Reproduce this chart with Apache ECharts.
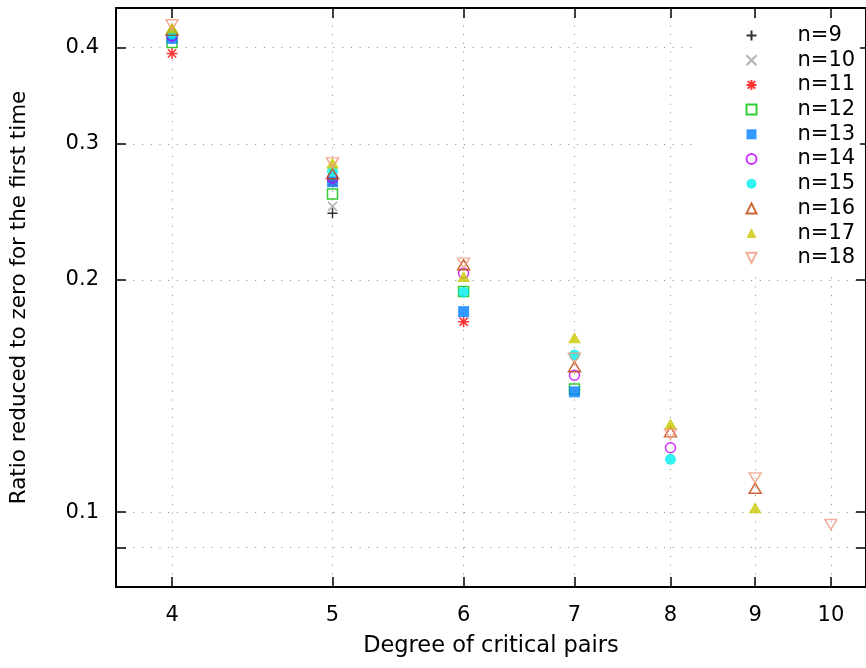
<!DOCTYPE html>
<html>
<head>
<meta charset="utf-8">
<script src="https://cdn.jsdelivr.net/npm/echarts@6/dist/echarts.min.js"></script>
<style>
  html, body { margin: 0; padding: 0; background: #fff; }
  #chart { width: 866px; height: 668px; }
</style>
</head>
<body>
<div id="chart"></div>
<script>
// Degrees on the x axis and ratio for each n (null = no point)
const degrees = [4, 5, 6, 7, 8, 9, 10];
const n9  = [0.412, 0.244, null, null, null, null, null];
const n10 = [0.414, 0.249, null, null, null, null, null];
const n11 = [0.393, 0.268, 0.1765, null, null, null, null];
const n12 = [0.406, 0.2584, 0.1932, 0.1444, null, null, null];
const n13 = [0.411, 0.268, 0.1819, 0.1432, null, null, null];
const n14 = [0.414, 0.271, 0.2040, 0.1505, 0.1212, null, null];
const n15 = [0.417, 0.2765, 0.1928, 0.1598, 0.1171, null, null];
const n16 = [0.421, 0.2745, 0.2092, 0.1543, 0.1271, 0.1074, null];
const n17 = [0.424, 0.2835, 0.2020, 0.1683, 0.1301, 0.1013, null];
const n18 = [0.428, 0.2835, 0.2102, 0.1583, 0.1262, 0.1108, 0.0964];

const xTicks = [4, 5, 6, 7, 8, 9, 10];
const yTicks = [0.09, 0.1, 0.2, 0.3, 0.4];
const yTickLabels = ['', '0.1', '0.2', '0.3', '0.4'];

const FONT = 'DejaVu Sans';
const GRID_COLOR = '#888';

const SYM_PLUS = 'path://M0,-1L0,1M-1,0L1,0';
const SYM_CROSS = 'path://M-1,-1L1,1M-1,1L1,-1';
const SYM_STAR = 'path://M0,-1L0,1M-1,0L1,0M-0.75,-0.75L0.75,0.75M-0.75,0.75L0.75,-0.75';
const SYM_SQUARE = 'path://M-1,-1L1,-1L1,1L-1,1Z';
const SYM_UP = 'path://M0,-1L1,1L-1,1Z';
const SYM_DOWN = 'path://M-1,-1L1,-1L0,1Z';

function toPoints(vals) {
    const pts = [];
    vals.forEach(function (v, i) {
        if (v != null) pts.push([degrees[i], v]);
    });
    return pts;
}

function makeSeries(name, vals, symbol, color, filled, size) {
    return {
        name: name,
        type: 'scatter',
        data: toPoints(vals),
        symbol: symbol,
        symbolSize: size || 10,
        itemStyle: filled
            ? { color: color, borderWidth: 0 }
            : { color: 'none', borderColor: color, borderWidth: 1.5 },
        emphasis: { disabled: true }
    };
}

const chart = echarts.init(document.getElementById('chart'));

const yFormatter = function (v) {
    let best = 0;
    yTicks.forEach(function (t, i) {
        if (Math.abs(t - v) < Math.abs(yTicks[best] - v)) best = i;
    });
    return yTickLabels[best];
};

const baseX = {
    type: 'log',
    logBase: 10,
    min: 3.7,
    max: 10.5,
    axisLine: { lineStyle: { color: '#000', width: 2 } },
    axisTick: { inside: true, length: 10, customValues: xTicks, lineStyle: { color: '#000', width: 1.5 } },
    minorTick: { show: false }
};
const baseY = {
    type: 'log',
    logBase: 10,
    min: 0.08,
    max: 0.45,
    axisLine: { lineStyle: { color: '#000', width: 2 } },
    axisTick: { inside: true, length: 10, customValues: yTicks, lineStyle: { color: '#000', width: 1.5 } },
    minorTick: { show: false }
};

chart.setOption({
    animation: false,
    backgroundColor: '#fff',
    textStyle: { fontFamily: FONT },
    grid: { left: 116, top: 8, right: -3, bottom: 81, containLabel: false },
    legend: {
        orient: 'vertical',
        left: 698,
        top: 20,
        padding: [5, 5, 5, 46],
        itemWidth: 10,
        itemHeight: 10,
        itemGap: 3.7,
        backgroundColor: '#fff',
        textStyle: { fontFamily: FONT, fontSize: 21, color: '#000', padding: [0, 0, 0, 36] },
        selectedMode: false
    },
    xAxis: [
        Object.assign({}, baseX, {
            position: 'bottom',
            name: 'Degree of critical pairs',
            nameLocation: 'middle',
            nameGap: 48,
            nameTextStyle: { fontFamily: FONT, fontSize: 22.5, color: '#000' },
            axisLabel: { customValues: xTicks, margin: 18, fontFamily: FONT, fontSize: 21, color: '#000' },
            splitLine: { show: true, lineStyle: { color: GRID_COLOR, width: 1, type: [1, 7.7] } }
        }),
        Object.assign({}, baseX, {
            position: 'top',
            axisLabel: { show: false },
            splitLine: { show: false }
        })
    ],
    yAxis: [
        Object.assign({}, baseY, {
            position: 'left',
            name: 'Ratio reduced to zero for the first time',
            nameLocation: 'middle',
            nameGap: 86,
            nameTextStyle: { fontFamily: FONT, fontSize: 21.5, color: '#000' },
            axisLabel: { customValues: yTicks, formatter: yFormatter, margin: 17, fontFamily: FONT, fontSize: 21, color: '#000' },
            splitLine: { show: true, lineStyle: { color: GRID_COLOR, width: 1, type: [1, 7.7] } }
        }),
        Object.assign({}, baseY, {
            position: 'right',
            axisLabel: { show: false },
            splitLine: { show: false }
        })
    ],
    series: [
        makeSeries('n=9', n9, SYM_PLUS, '#000000', false, 10),
        makeSeries('n=10', n10, SYM_CROSS, '#a0a0a0', false, 9),
        makeSeries('n=11', n11, SYM_STAR, '#ff0000', false, 11),
        makeSeries('n=12', n12, SYM_SQUARE, '#00c000', false, 10),
        makeSeries('n=13', n13, SYM_SQUARE, '#0080ff', true, 11),
        makeSeries('n=14', n14, 'circle', '#c000ff', false, 10),
        makeSeries('n=15', n15, 'circle', '#00eeee', true, 11),
        makeSeries('n=16', n16, SYM_UP, '#c04000', false, [12, 10]),
        makeSeries('n=17', n17, SYM_UP, '#c8c800', true, [13, 11]),
        makeSeries('n=18', n18, SYM_DOWN, '#f09a80', false, [12, 10])
    ]
});

window.addEventListener('resize', function () {
    chart.resize();
});
</script>
</body>
</html>
